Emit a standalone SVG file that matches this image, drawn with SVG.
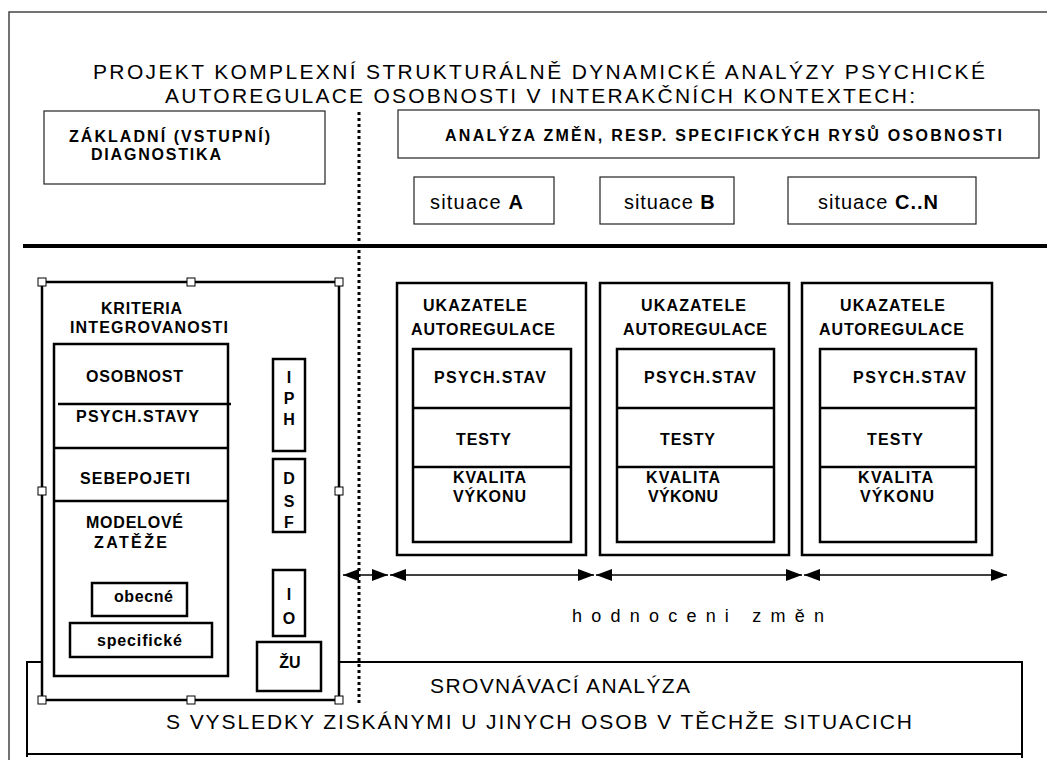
<svg xmlns="http://www.w3.org/2000/svg" width="1047" height="760" viewBox="0 0 1047 760">
<style>
text{font-family:"Liberation Sans",Arial,sans-serif;fill:#000}
.r{font-size:21px}
.b{font-size:16px;font-weight:bold}
.s{font-size:20px}
.bd{font-weight:bold}
.m{text-anchor:middle}
.thin{fill:#fff;stroke:#222;stroke-width:1.2}
.box{fill:#fff;stroke:#000;stroke-width:2.5}
.sep{stroke:#000;stroke-width:2.5}
.h{fill:#fff;stroke:#000;stroke-width:1}
.ar{stroke:#000;stroke-width:1.3;fill:none;marker-start:url(#ah);marker-end:url(#ah)}
</style>
<defs>
<marker id="ah" markerUnits="userSpaceOnUse" markerWidth="16" markerHeight="12" refX="16" refY="6" orient="auto-start-reverse" viewBox="0 0 16 12">
<path d="M0,0 L16,6 L0,12 z" fill="#000"/>
</marker>
</defs>
<rect width="1047" height="760" fill="#fff"/>
<g id="frame">
<path d="M9,760 V12 H1047" fill="none" stroke="#444" stroke-width="1.5"/>
</g>
<g id="title">
<text class="r" x="93" y="79" textLength="892" lengthAdjust="spacing">PROJEKT KOMPLEXNÍ STRUKTURÁLNĚ DYNAMICKÉ ANALÝZY PSYCHICKÉ</text>
<text class="r" x="165" y="103" textLength="750" lengthAdjust="spacing">AUTOREGULACE OSOBNOSTI V INTERAKČNÍCH KONTEXTECH:</text>
</g>
<g id="zakladni">
<rect class="thin" x="44" y="111" width="281" height="73"/>
<text class="b" x="69" y="142" textLength="201" lengthAdjust="spacing">ZÁKLADNÍ (VSTUPNÍ)</text>
<text class="b" x="91" y="160" textLength="130" lengthAdjust="spacing">DIAGNOSTIKA</text>
</g>
<g id="analyza">
<rect class="thin" x="398" y="110" width="641" height="48"/>
<text class="b" x="445" y="141" textLength="557" lengthAdjust="spacing">ANALÝZA ZMĚN, RESP. SPECIFICKÝCH RYSŮ OSOBNOSTI</text>
</g>
<g id="situaceA">
<rect class="thin" x="414" y="177" width="140" height="47"/>
<text class="s" x="430" y="209" letter-spacing="1.2">situace <tspan class="bd">A</tspan></text>
</g>
<g id="situaceB">
<rect class="thin" x="600" y="177" width="134" height="47"/>
<text class="s" x="624" y="209" letter-spacing="0.9">situace <tspan class="bd">B</tspan></text>
</g>
<g id="situaceC">
<rect class="thin" x="788" y="177" width="188" height="47"/>
<text class="s" x="818" y="209" letter-spacing="1">situace <tspan class="bd">C..N</tspan></text>
</g>
<g id="divider">
<line x1="23" y1="246" x2="1047" y2="246" stroke="#000" stroke-width="4"/>
</g>
<g id="srovnavaci">
<path d="M27,757 V662 H1022 V758 M27,754 H1022" fill="none" stroke="#000" stroke-width="2"/>
<text class="r" x="430" y="693" textLength="260" lengthAdjust="spacing">SROVNÁVACÍ ANALÝZA</text>
<text class="r" x="166" y="729" textLength="746" lengthAdjust="spacing">S VYSLEDKY ZISKÁNYMI U JINYCH OSOB V TĚCHŽE SITUACICH</text>
</g>
<g id="kriteria">
<rect class="box" x="42" y="282" width="297" height="418"/>
<text class="b" x="101" y="314" textLength="81" lengthAdjust="spacing">KRITERIA</text>
<text class="b" x="70" y="333" textLength="158" lengthAdjust="spacing">INTEGROVANOSTI</text>
<rect class="box" x="54" y="344" width="174" height="332"/>
<line class="sep" x1="58" y1="404" x2="231" y2="404"/>
<line class="sep" x1="54" y1="448" x2="228" y2="448"/>
<line class="sep" x1="54" y1="501" x2="228" y2="501"/>
<text class="b" x="86" y="382" textLength="97" lengthAdjust="spacing">OSOBNOST</text>
<text class="b" x="76" y="422" textLength="123" lengthAdjust="spacing">PSYCH.STAVY</text>
<text class="b" x="80" y="484" textLength="110" lengthAdjust="spacing">SEBEPOJETI</text>
<text class="b" x="86" y="528" textLength="97" lengthAdjust="spacing">MODELOVÉ</text>
<text class="b" x="94" y="548" textLength="73" lengthAdjust="spacing">ZATĚŽE</text>
<rect class="box" x="92" y="583" width="95" height="33"/>
<text class="b" x="114" y="602" textLength="59" lengthAdjust="spacing">obecné</text>
<rect class="box" x="70" y="623" width="142" height="34"/>
<text class="b" x="97" y="646" textLength="85" lengthAdjust="spacing">specifické</text>
<rect class="box" x="273" y="359" width="32" height="92"/>
<text class="b m" x="289" y="383">I</text>
<text class="b m" x="289" y="404">P</text>
<text class="b m" x="289" y="425">H</text>
<rect class="box" x="273" y="459" width="32" height="73"/>
<text class="b m" x="289" y="484">D</text>
<text class="b m" x="289" y="507">S</text>
<text class="b m" x="289" y="528">F</text>
<rect class="box" x="273" y="570" width="32" height="66"/>
<text class="b m" x="289" y="600">I</text>
<text class="b m" x="289" y="624">O</text>
<rect class="box" x="257" y="642" width="64" height="49"/>
<text class="b m" x="290" y="668">ŽU</text>
<rect class="h" x="38" y="278" width="8" height="8"/>
<rect class="h" x="187" y="278" width="8" height="8"/>
<rect class="h" x="335" y="278" width="8" height="8"/>
<rect class="h" x="38" y="487" width="8" height="8"/>
<rect class="h" x="335" y="487" width="8" height="8"/>
<rect class="h" x="38" y="696" width="8" height="8"/>
<rect class="h" x="187" y="696" width="8" height="8"/>
<rect class="h" x="335" y="696" width="8" height="8"/>
</g>
<g id="ukazatele1">
<rect class="box" x="397" y="283" width="189" height="272"/>
<rect class="box" x="413" y="349" width="158" height="193"/>
<line class="sep" x1="413" y1="408" x2="571" y2="408"/>
<line class="sep" x1="413" y1="467" x2="571" y2="467"/>
<text class="b" x="423" y="311" textLength="104" lengthAdjust="spacing">UKAZATELE</text>
<text class="b" x="411" y="335" textLength="144" lengthAdjust="spacing">AUTOREGULACE</text>
<text class="b" x="434" y="383" textLength="112" lengthAdjust="spacing">PSYCH.STAV</text>
<text class="b" x="456" y="445" textLength="55" lengthAdjust="spacing">TESTY</text>
<text class="b" x="453" y="483" textLength="73" lengthAdjust="spacing">KVALITA</text>
<text class="b" x="453" y="502" textLength="73" lengthAdjust="spacing">VÝKONU</text>
</g>
<g id="ukazatele2">
<rect class="box" x="600" y="283" width="189" height="272"/>
<rect class="box" x="617" y="349" width="157" height="193"/>
<line class="sep" x1="617" y1="408" x2="774" y2="408"/>
<line class="sep" x1="617" y1="467" x2="774" y2="467"/>
<text class="b" x="641" y="311" textLength="105" lengthAdjust="spacing">UKAZATELE</text>
<text class="b" x="623" y="335" textLength="144" lengthAdjust="spacing">AUTOREGULACE</text>
<text class="b" x="644" y="383" textLength="112" lengthAdjust="spacing">PSYCH.STAV</text>
<text class="b" x="660" y="445" textLength="55" lengthAdjust="spacing">TESTY</text>
<text class="b" x="646" y="483" textLength="74" lengthAdjust="spacing">KVALITA</text>
<text class="b" x="648" y="502" textLength="70" lengthAdjust="spacing">VÝKONU</text>
</g>
<g id="ukazatele3">
<rect class="box" x="802" y="283" width="190" height="272"/>
<rect class="box" x="820" y="349" width="156" height="193"/>
<line class="sep" x1="820" y1="408" x2="976" y2="408"/>
<line class="sep" x1="820" y1="467" x2="976" y2="467"/>
<text class="b" x="840" y="311" textLength="105" lengthAdjust="spacing">UKAZATELE</text>
<text class="b" x="819" y="335" textLength="145" lengthAdjust="spacing">AUTOREGULACE</text>
<text class="b" x="853" y="383" textLength="113" lengthAdjust="spacing">PSYCH.STAV</text>
<text class="b" x="867" y="445" textLength="56" lengthAdjust="spacing">TESTY</text>
<text class="b" x="858" y="483" textLength="75" lengthAdjust="spacing">KVALITA</text>
<text class="b" x="860" y="502" textLength="74" lengthAdjust="spacing">VÝKONU</text>
</g>
<g id="connectors">
<line x1="359" y1="112" x2="359" y2="706" stroke="#000" stroke-width="3" stroke-dasharray="3 3"/>
<line class="ar" x1="343" y1="575" x2="388" y2="575"/>
<line class="ar" x1="390" y1="575" x2="594" y2="575"/>
<line class="ar" x1="596" y1="575" x2="802" y2="575"/>
<line class="ar" x1="804" y1="575" x2="1007" y2="575"/>
<text x="572" y="622" font-size="18" textLength="252" lengthAdjust="spacing">hodnoceni změn</text>
</g>
</svg>
